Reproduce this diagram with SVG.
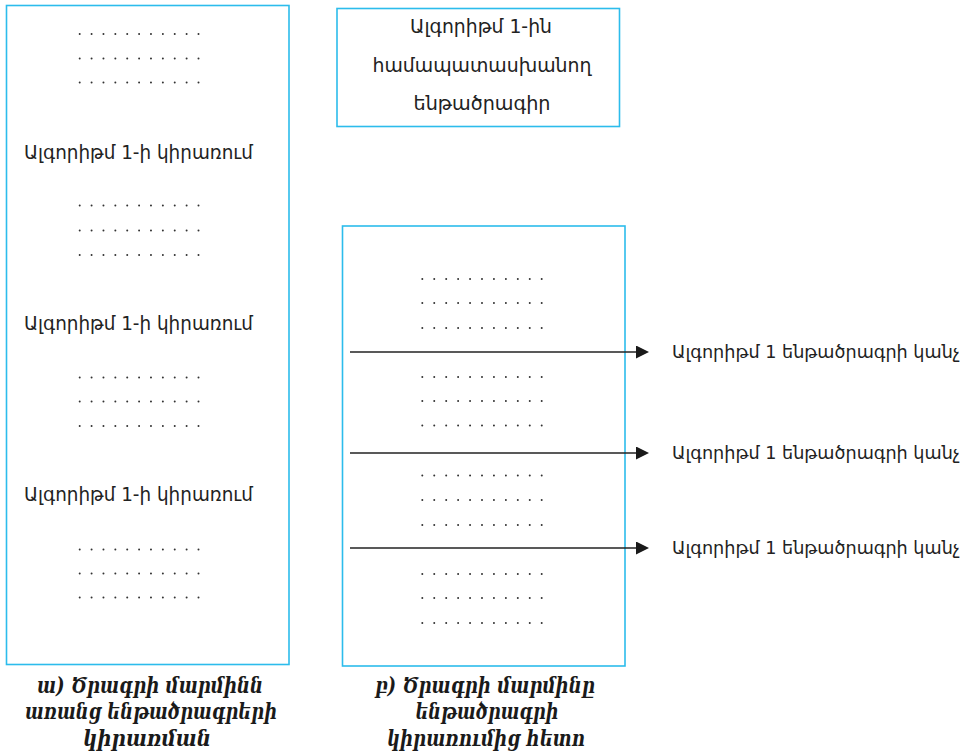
<svg xmlns="http://www.w3.org/2000/svg" width="980" height="756" viewBox="0 0 980 756">
  <style>
    .box { fill: #ffffff; stroke: #2cbcec; stroke-width: 1.6; }
    .lbl { font-family: "DejaVu Sans", "Noto Sans", sans-serif; font-size: 19px; fill: #222222; }
    .clbl { font-family: "DejaVu Sans", "Noto Sans", sans-serif; font-size: 17.5px; fill: #222222; }
    .cap { font-family: "DejaVu Serif", "Liberation Serif", serif; font-size: 22px; font-weight: bold; font-style: italic; fill: #1a1a1a; text-anchor: middle; }
    .dots { stroke: #333333; stroke-width: 2; stroke-linecap: round; fill: none; }
    .dl { stroke-dasharray: 0 11.88; }
    .dr { stroke-dasharray: 0 11.94; }
    .call { stroke: #222222; stroke-width: 1.5; fill: none; marker-end: url(#head); }
  </style>
  <defs>
    <marker id="head" viewBox="0 0 13 13" refX="0" refY="6.5" markerWidth="13" markerHeight="13" markerUnits="userSpaceOnUse" orient="auto">
      <path d="M0,0 L13,6.5 L0,13 Z" fill="#1a1a1a"/>
    </marker>
  </defs>

  <!-- program body without subroutines -->
  <g id="body-inline">
    <rect class="box" x="6.5" y="5.5" width="282.5" height="659"/>
    <g class="dots dl">
      <line x1="79.7" y1="34" x2="198.6" y2="34"/>
      <line x1="79.7" y1="58.5" x2="198.6" y2="58.5"/>
      <line x1="79.7" y1="82.5" x2="198.6" y2="82.5"/>
      <line x1="79.7" y1="205.5" x2="198.6" y2="205.5"/>
      <line x1="79.7" y1="230.5" x2="198.6" y2="230.5"/>
      <line x1="79.7" y1="255" x2="198.6" y2="255"/>
      <line x1="79.7" y1="377.5" x2="198.6" y2="377.5"/>
      <line x1="79.7" y1="401.5" x2="198.6" y2="401.5"/>
      <line x1="79.7" y1="426" x2="198.6" y2="426"/>
      <line x1="79.7" y1="549.5" x2="198.6" y2="549.5"/>
      <line x1="79.7" y1="573.5" x2="198.6" y2="573.5"/>
      <line x1="79.7" y1="597.5" x2="198.6" y2="597.5"/>
    </g>
    <text class="lbl" x="24" y="159" textLength="229" lengthAdjust="spacingAndGlyphs">Ալգորիթմ 1-ի կիրառում</text>
    <text class="lbl" x="24" y="330" textLength="229" lengthAdjust="spacingAndGlyphs">Ալգորիթմ 1-ի կիրառում</text>
    <text class="lbl" x="24" y="501" textLength="229" lengthAdjust="spacingAndGlyphs">Ալգորիթմ 1-ի կիրառում</text>
  </g>

  <!-- the subroutine itself -->
  <g id="subroutine">
    <rect class="box" x="337" y="8.5" width="282.5" height="118"/>
    <text class="lbl" x="481" y="33" text-anchor="middle" textLength="142" lengthAdjust="spacingAndGlyphs">Ալգորիթմ 1-ին</text>
    <text class="lbl" x="482" y="72" text-anchor="middle" textLength="219" lengthAdjust="spacingAndGlyphs">համապատասխանող</text>
    <text class="lbl" x="482" y="110" text-anchor="middle" textLength="137" lengthAdjust="spacingAndGlyphs">ենթածրագիր</text>
  </g>

  <!-- program body with subroutine calls -->
  <g id="body-calls">
    <rect class="box" x="342.5" y="226" width="282.5" height="440"/>
    <g class="dots dr">
      <line x1="422.3" y1="279" x2="541.8" y2="279"/>
      <line x1="422.3" y1="303" x2="541.8" y2="303"/>
      <line x1="422.3" y1="328" x2="541.8" y2="328"/>
      <line x1="422.3" y1="377" x2="541.8" y2="377"/>
      <line x1="422.3" y1="401" x2="541.8" y2="401"/>
      <line x1="422.3" y1="425.5" x2="541.8" y2="425.5"/>
      <line x1="422.3" y1="475.5" x2="541.8" y2="475.5"/>
      <line x1="422.3" y1="500" x2="541.8" y2="500"/>
      <line x1="422.3" y1="525" x2="541.8" y2="525"/>
      <line x1="422.3" y1="574" x2="541.8" y2="574"/>
      <line x1="422.3" y1="598" x2="541.8" y2="598"/>
      <line x1="422.3" y1="623" x2="541.8" y2="623"/>
    </g>
  </g>

  <!-- call arrows -->
  <g id="connectors">
    <line class="call" x1="350" y1="352" x2="636" y2="352"/>
    <line class="call" x1="350" y1="453" x2="636" y2="453"/>
    <line class="call" x1="350" y1="548" x2="636" y2="548"/>
  </g>

  <g id="call-labels">
    <text class="clbl" x="672" y="358" textLength="288" lengthAdjust="spacingAndGlyphs">Ալգորիթմ 1 ենթածրագրի կանչ</text>
    <text class="clbl" x="672" y="459" textLength="288" lengthAdjust="spacingAndGlyphs">Ալգորիթմ 1 ենթածրագրի կանչ</text>
    <text class="clbl" x="672" y="554" textLength="288" lengthAdjust="spacingAndGlyphs">Ալգորիթմ 1 ենթածրագրի կանչ</text>
  </g>

  <!-- captions -->
  <g id="caption-a">
    <text class="cap" x="150" y="693" textLength="226" lengthAdjust="spacingAndGlyphs">ա) Ծրագրի մարմինն</text>
    <text class="cap" x="151" y="719" textLength="252" lengthAdjust="spacingAndGlyphs">առանց ենթածրագրերի</text>
    <text class="cap" x="147" y="746" textLength="128" lengthAdjust="spacingAndGlyphs">կիրառման</text>
  </g>
  <g id="caption-b">
    <text class="cap" x="485" y="693" textLength="220" lengthAdjust="spacingAndGlyphs">բ) Ծրագրի մարմինը</text>
    <text class="cap" x="487" y="719" textLength="143" lengthAdjust="spacingAndGlyphs">ենթածրագրի</text>
    <text class="cap" x="486" y="746" textLength="198" lengthAdjust="spacingAndGlyphs">կիրառումից հետո</text>
  </g>
</svg>
